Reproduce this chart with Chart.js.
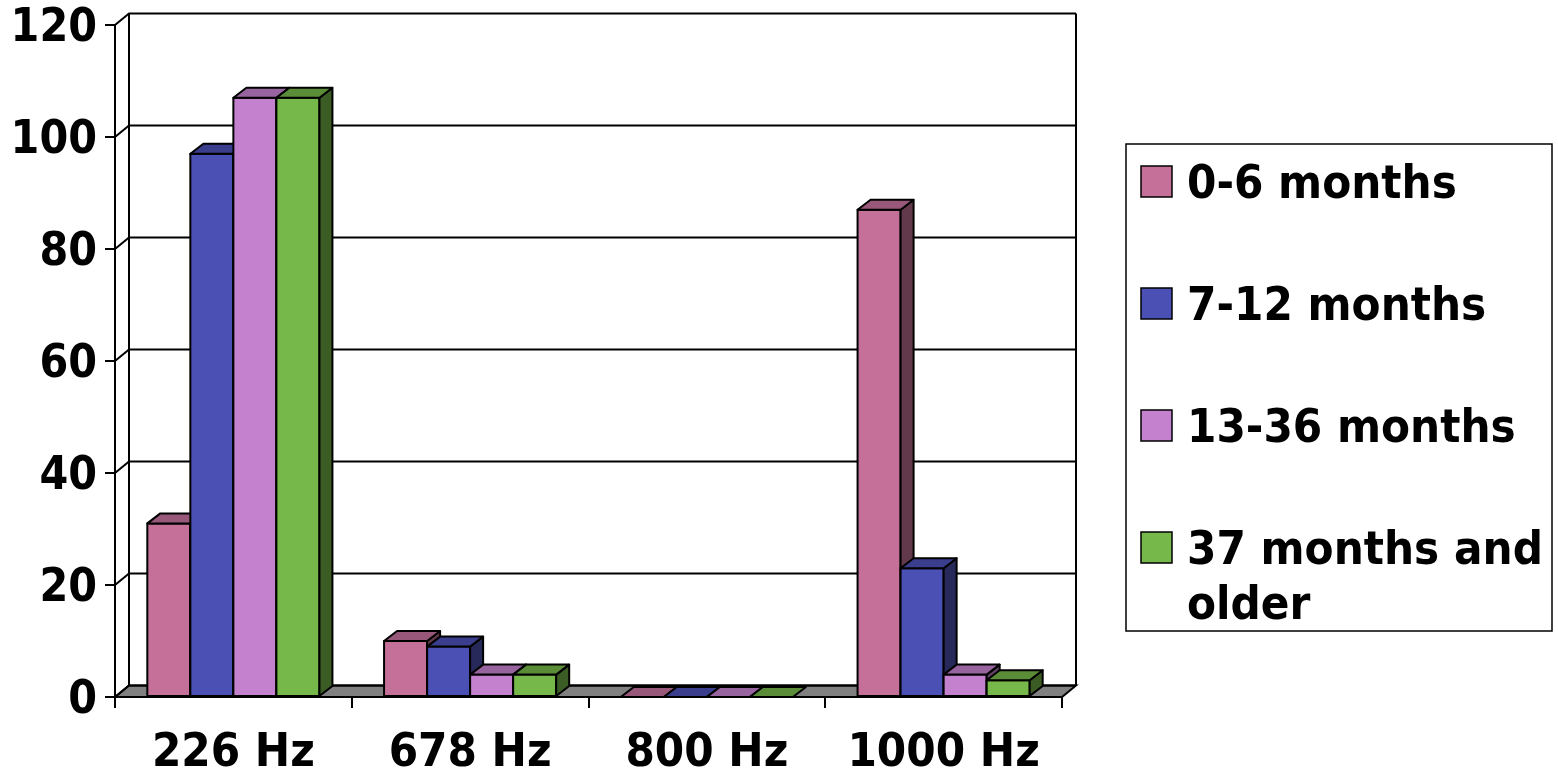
<!DOCTYPE html>
<html>
<head>
<meta charset="utf-8">
<style>
  html, body { margin: 0; padding: 0; background: #fff; }
  canvas { display: block; }
</style>
<script src="https://cdn.jsdelivr.net/npm/chart.js@4/dist/chart.umd.min.js"></script>
</head>
<body>
<canvas id="chart" width="1558" height="772"></canvas>
<script>
// Tympanometry probe tone by age group
const categories = ['226 Hz', '678 Hz', '800 Hz', '1000 Hz'];
const seriesNames = ['0-6 months', '7-12 months', '13-36 months', '37 months and older'];
const months0to6 = [31, 10, 0, 87];
const months7to12 = [97, 9, 0, 23];
const months13to36 = [107, 4, 0, 4];
const months37plus = [107, 4, 0, 3];
const yTicks = [0, 20, 40, 60, 80, 100, 120];

const seriesValues = [months0to6, months7to12, months13to36, months37plus];

// front / top / side shading of each series' columns
const faceColors = [
  { front: '#C47098', top: '#97587A', side: '#62384B' },
  { front: '#4B50B4', top: '#3A3E8C', side: '#27295B' },
  { front: '#C482CE', top: '#98649F', side: '#634268' },
  { front: '#76B84A', top: '#5B8D39', side: '#3C5C25' }
];

const FONT = '"DejaVu Sans Condensed", "DejaVu Sans", sans-serif';
const WALL_DX = 14, WALL_DY = -11.5;   // depth of the floor / back wall
const BAR_DX = 13, BAR_DY = -10;       // depth of each column
const LINE = '#000';

// floor, back wall and side wall with gridlines
const box3d = {
  id: 'box3d',
  beforeDatasetsDraw(chart) {
    const { ctx, chartArea: { left, right, top, bottom }, scales: { y } } = chart;
    ctx.save();
    ctx.lineWidth = 2;
    ctx.strokeStyle = LINE;
    ctx.lineJoin = 'miter';

    // floor
    ctx.beginPath();
    ctx.moveTo(left, bottom);
    ctx.lineTo(right, bottom);
    ctx.lineTo(right + WALL_DX, bottom + WALL_DY);
    ctx.lineTo(left + WALL_DX, bottom + WALL_DY);
    ctx.closePath();
    ctx.fillStyle = '#808080';
    ctx.fill();
    ctx.stroke();

    // gridlines across the back wall, with their run along the side wall
    y.ticks.forEach(t => {
      const py = Math.round(y.getPixelForValue(t.value));
      ctx.beginPath();
      ctx.moveTo(left, py);
      ctx.lineTo(left + WALL_DX, py + WALL_DY);
      ctx.lineTo(right + WALL_DX, py + WALL_DY);
      ctx.stroke();
    });

    // back wall edges
    ctx.beginPath();
    ctx.moveTo(left + WALL_DX, top + WALL_DY);
    ctx.lineTo(left + WALL_DX, bottom + WALL_DY);
    ctx.moveTo(right + WALL_DX, top + WALL_DY);
    ctx.lineTo(right + WALL_DX, bottom + WALL_DY);
    ctx.stroke();
    ctx.restore();
  },

  // columns drawn left to right so each one hides its neighbour's side face
  afterDatasetsDraw(chart) {
    const { ctx } = chart;
    ctx.save();
    ctx.lineWidth = 2;
    ctx.strokeStyle = LINE;
    ctx.lineJoin = 'round';
    chart.data.datasets.forEach((ds, di) => {
      const meta = chart.getDatasetMeta(di);
      const c = faceColors[di];
      meta.data.forEach(el => {
        const { x, y, base, width } = el.getProps(['x', 'y', 'base', 'width'], true);
        const l = x - width / 2, r = x + width / 2;
        if (base - y > 0.5) {
          // front
          ctx.beginPath();
          ctx.rect(l, y, r - l, base - y);
          ctx.fillStyle = c.front;
          ctx.fill();
          ctx.stroke();
          // side
          ctx.beginPath();
          ctx.moveTo(r, y);
          ctx.lineTo(r + BAR_DX, y + BAR_DY);
          ctx.lineTo(r + BAR_DX, base + BAR_DY);
          ctx.lineTo(r, base);
          ctx.closePath();
          ctx.fillStyle = c.side;
          ctx.fill();
          ctx.stroke();
        }
        // top
        ctx.beginPath();
        ctx.moveTo(l, y);
        ctx.lineTo(r, y);
        ctx.lineTo(r + BAR_DX, y + BAR_DY);
        ctx.lineTo(l + BAR_DX, y + BAR_DY);
        ctx.closePath();
        ctx.fillStyle = c.top;
        ctx.fill();
        ctx.stroke();
      });
    });
    ctx.restore();
  }
};

// boxed legend on the right with wrapped labels
const boxLegend = {
  id: 'boxLegend',
  afterDraw(chart) {
    const { ctx } = chart;
    const bx = 1126, by = 144, bw = 426, bh = 487;
    const textX = 1187, maxW = 362;
    const firstBase = 198, rowStep = 122, lineStep = 55;
    ctx.save();
    ctx.lineWidth = 1.5;
    ctx.strokeStyle = LINE;
    ctx.strokeRect(bx, by, bw, bh);
    ctx.font = 'bold 47px ' + FONT;
    ctx.textBaseline = 'alphabetic';
    ctx.textAlign = 'left';
    chart.data.datasets.forEach((ds, i) => {
      const base = firstBase + i * rowStep;
      ctx.fillStyle = faceColors[i].front;
      ctx.fillRect(1141, base - 32, 31, 31);
      ctx.lineWidth = 1.5;
      ctx.strokeRect(1141, base - 32, 31, 31);
      // wrap label
      const words = ds.label.split(' ');
      const lines = [];
      let cur = '';
      words.forEach(w => {
        const test = cur ? cur + ' ' + w : w;
        if (cur && ctx.measureText(test).width > maxW) { lines.push(cur); cur = w; }
        else cur = test;
      });
      if (cur) lines.push(cur);
      ctx.fillStyle = '#000';
      lines.forEach((ln, k) => ctx.fillText(ln, textX, base + k * lineStep));
    });
    ctx.restore();
  }
};

new Chart(document.getElementById('chart'), {
  type: 'bar',
  data: {
    labels: categories,
    datasets: seriesValues.map((vals, i) => ({
      label: seriesNames[i],
      data: vals,
      backgroundColor: faceColors[i].front,
      borderWidth: 0,
      barPercentage: 1,
      categoryPercentage: 0.727
    }))
  },
  options: {
    responsive: false,
    animation: false,
    devicePixelRatio: 1,
    layout: { padding: { top: 25, right: 496, left: 0, bottom: 0 } },
    plugins: {
      legend: { display: false },
      tooltip: { enabled: false }
    },
    scales: {
      x: {
        afterFit(scale) { scale.height = 75; },
        grid: { display: true, offset: true, drawOnChartArea: false, drawTicks: true, tickLength: 11, color: LINE, lineWidth: 2 },
        border: { display: true, color: LINE, width: 2 },
        ticks: { color: '#000', padding: 22, font: { family: FONT, size: 47, weight: 'bold', lineHeight: 1 } }
      },
      y: {
        min: 0,
        max: 120,
        afterFit(scale) {
          scale.width = 115;
          scale.paddingTop = 0;
          scale.paddingBottom = 0;
        },
        afterBuildTicks(scale) { scale.ticks = yTicks.map(v => ({ value: v })); },
        grid: { display: true, drawOnChartArea: false, drawTicks: true, tickLength: 10, color: LINE, lineWidth: 2 },
        border: { display: true, color: LINE, width: 2 },
        ticks: { color: '#000', padding: 8, labelOffset: 4, font: { family: FONT, size: 46, weight: 'bold', lineHeight: 1 } }
      }
    }
  },
  plugins: [box3d, boxLegend]
});
</script>
</body>
</html>
